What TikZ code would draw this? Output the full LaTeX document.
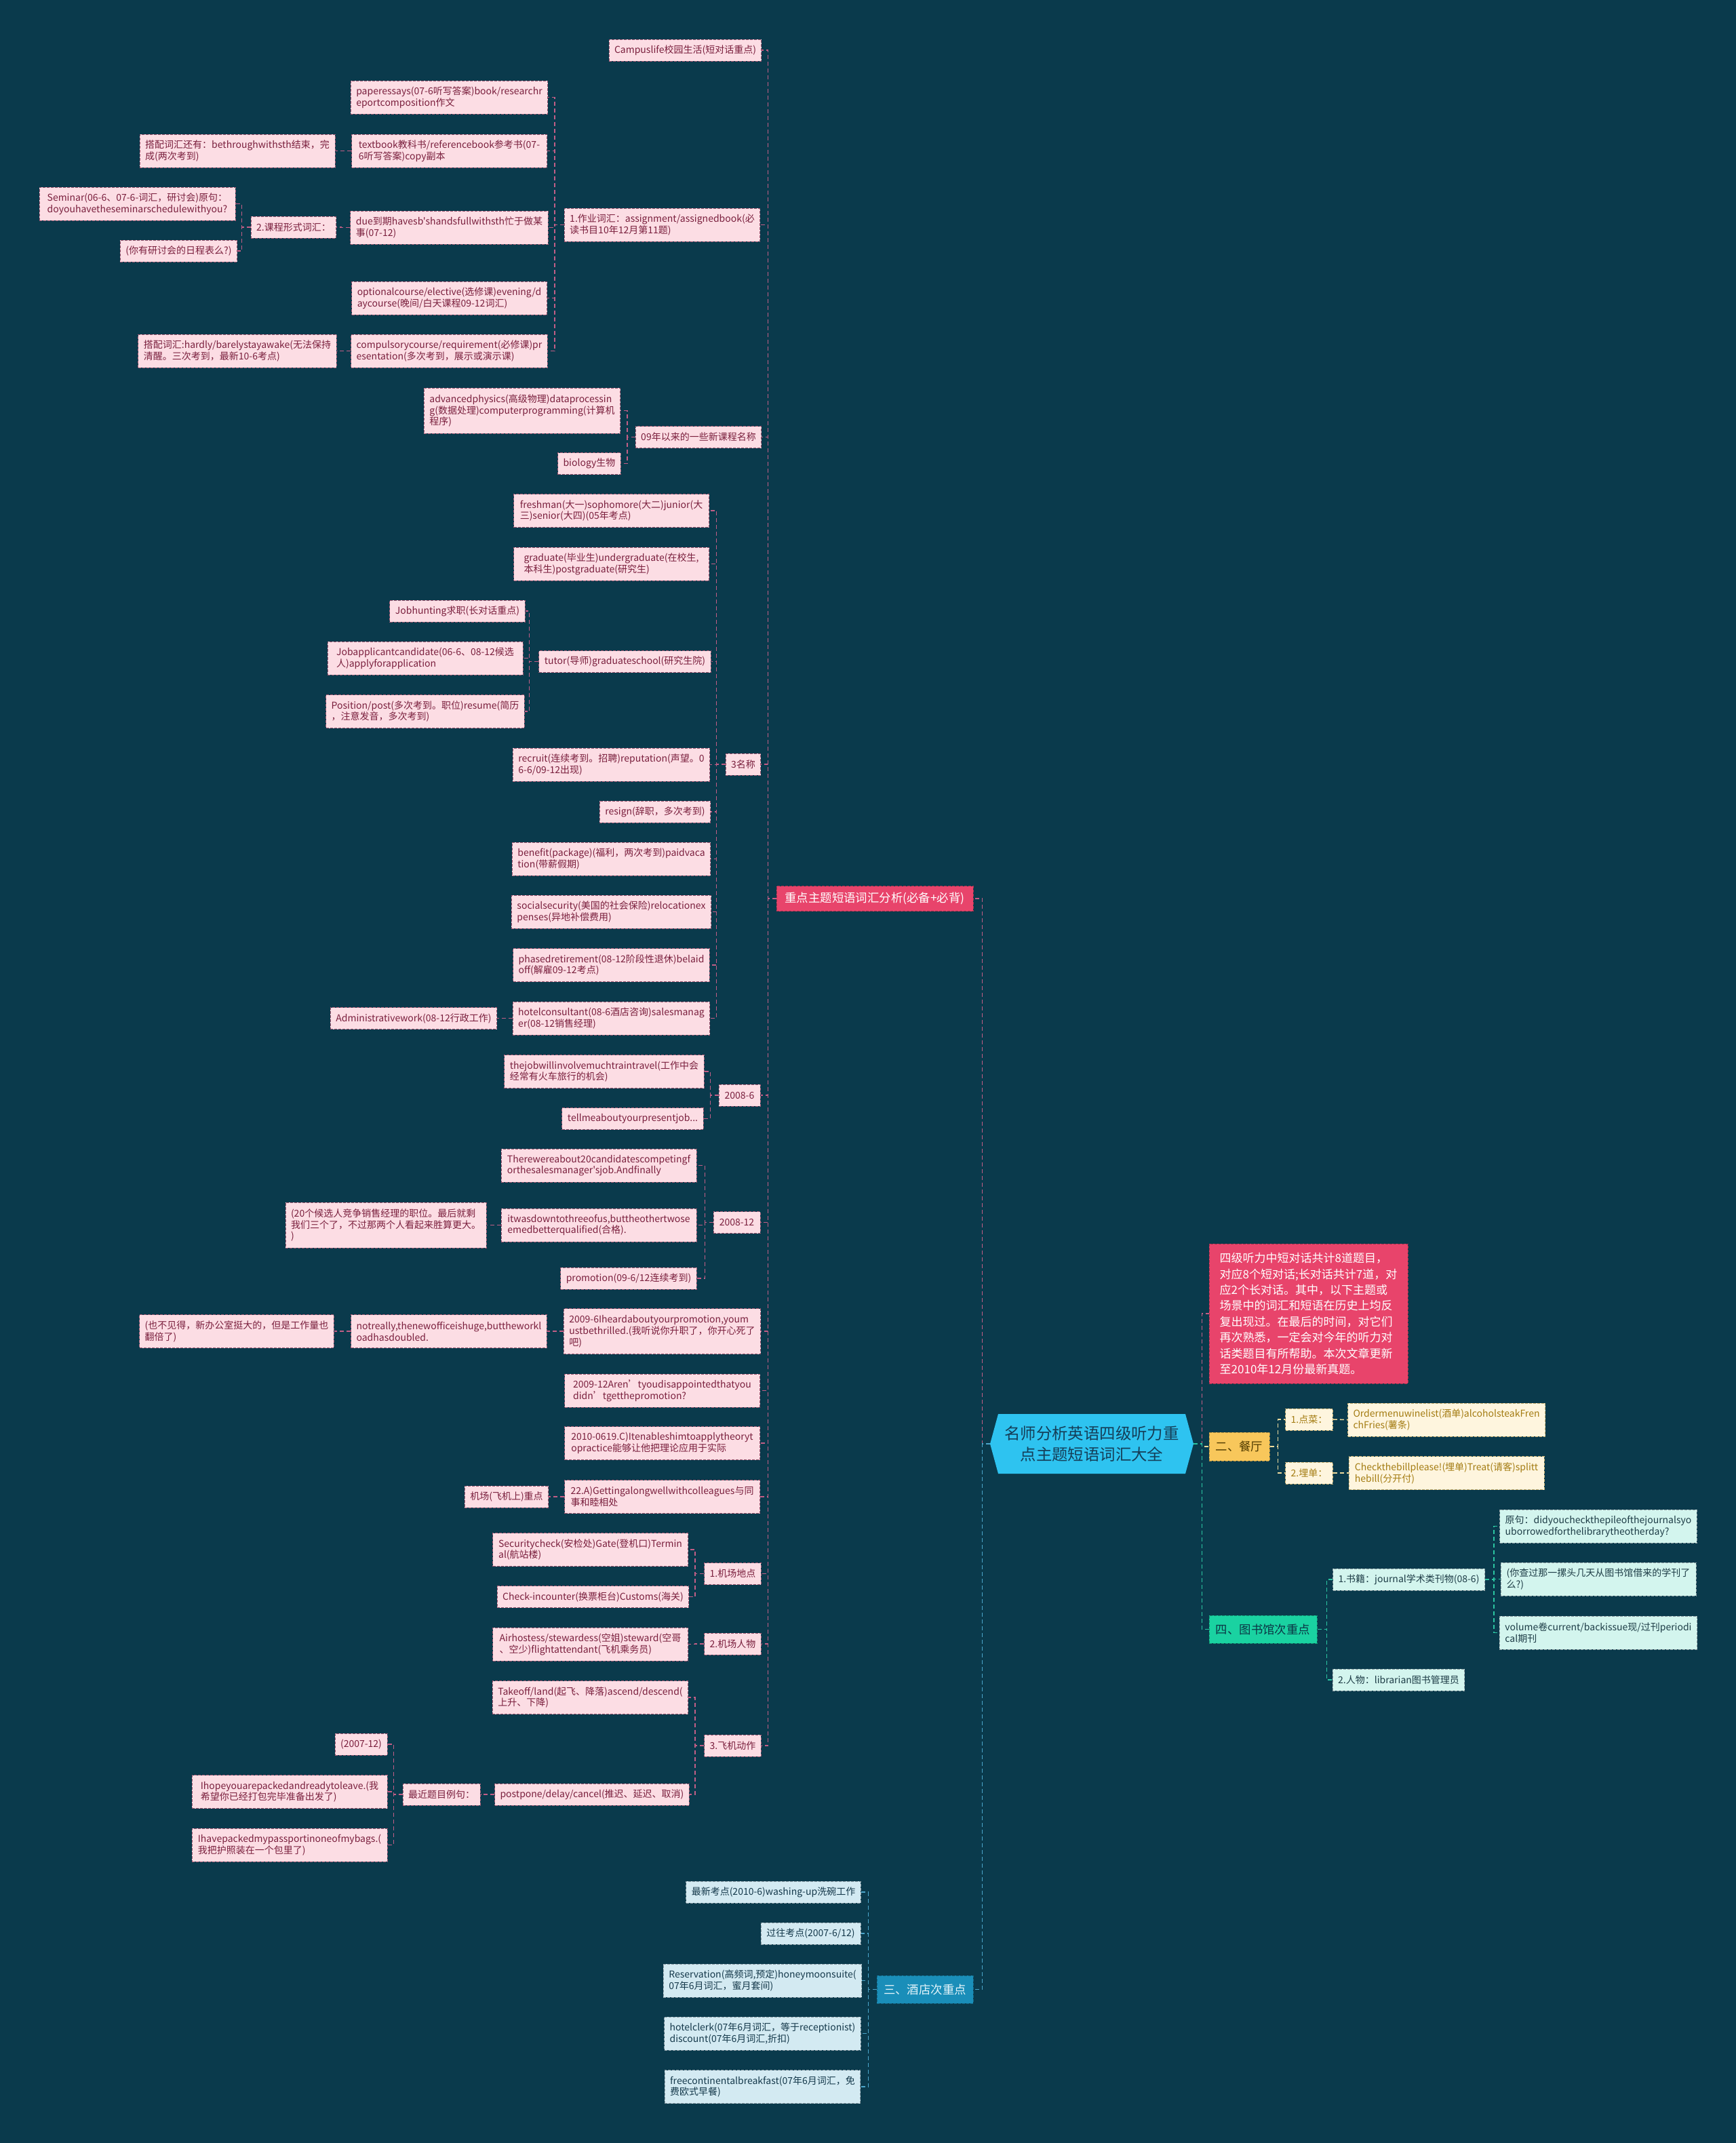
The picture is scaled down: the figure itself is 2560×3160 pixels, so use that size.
\documentclass[tikz,border=0pt]{standalone}
\usepackage{fontspec}
\setmainfont{Noto Sans CJK SC}[Ligatures=TeXOff]
\definecolor{bgc}{HTML}{0A3A4C}
\definecolor{pkfill}{HTML}{FCDDE4}
\definecolor{pktext}{HTML}{7A1F3D}
\definecolor{pkborder}{HTML}{9C5670}
\definecolor{pkline}{HTML}{C25E86}
\definecolor{hotpk}{HTML}{E8446B}
\definecolor{rootfill}{HTML}{2EC3F0}
\definecolor{roottext}{HTML}{153E58}
\definecolor{yfill}{HTML}{F8C75B}
\definecolor{ytext}{HTML}{4E3A00}
\definecolor{ycfill}{HTML}{FEF5DE}
\definecolor{yctext}{HTML}{A47C12}
\definecolor{yline}{HTML}{EFDC9E}
\definecolor{gfill}{HTML}{1AD2A1}
\definecolor{gtext}{HTML}{0B3645}
\definecolor{gcfill}{HTML}{D3F5EE}
\definecolor{gctext}{HTML}{1D3C46}
\definecolor{gline}{HTML}{2BC6A2}
\definecolor{bfill}{HTML}{1A8EB9}
\definecolor{btext}{HTML}{E4F5FB}
\definecolor{bcfill}{HTML}{D3EAF2}
\definecolor{bctext}{HTML}{15394B}
\definecolor{bline}{HTML}{4CA6CB}
\pgfdeclarelayer{back}
\pgfdeclarelayer{wires}
\pgfsetlayers{back,wires,main}
\newcommand{\fsS}{\fontsize{7pt}{8.4pt}\selectfont}
\newcommand{\fsM}{\fontsize{8.7pt}{11pt}\selectfont}
\newcommand{\fsN}{\fontsize{8.5pt}{11.7pt}\selectfont}
\newcommand{\fsR}{\fontsize{11.7pt}{15.8pt}\selectfont}
\tikzset{
  nd/.style={rectangle, inner xsep=4pt, inner ysep=1pt, align=left, font=\fsS},
  bdr/.style={line width=0.5pt, dash pattern=on 2pt off 1pt},
  pk/.style={nd, bdr, fill=pkfill, draw=pkborder, text=pktext},
  yc/.style={nd, bdr, fill=ycfill, draw=yctext!60, text=yctext},
  gc/.style={nd, bdr, fill=gcfill, draw=gctext!50, text=gctext},
  bc/.style={nd, bdr, fill=bcfill, draw=bctext!50, text=bctext},
  L1/.style={minimum height=16pt},
  L2/.style={minimum height=24.5pt},
  L3/.style={minimum height=33.5pt},
  wf/.style={minimum width=144pt},
  big/.style={rectangle, inner xsep=4pt, inner ysep=1pt, font=\fsM, bdr},
  wire/.style={line width=0.8pt, dash pattern=on 3pt off 2pt},
  pkc/.style={wire, draw=pkline},
  yc line/.style={wire, draw=yline},
  gc line/.style={wire, draw=gline},
  bc line/.style={wire, draw=bline},
}
\begin{document}
\begin{tikzpicture}[x=0.5pt, y=-0.5pt]
\useasboundingbox (0,0) rectangle (2560,3160);
\begin{pgfonlayer}{back}
\fill[bgc] (0,0) rectangle (2560,3160);
\end{pgfonlayer}

% ---------- root ----------
\node[font=\fsR, text=roottext, align=center, minimum width=150pt, minimum height=44pt, inner sep=0pt, fill=bgc,
  path picture={\fill[rootfill] (path picture bounding box.west) -- ([xshift=6pt]path picture bounding box.north west) -- ([xshift=-6pt]path picture bounding box.north east) -- (path picture bounding box.east) -- ([xshift=-6pt]path picture bounding box.south east) -- ([xshift=6pt]path picture bounding box.south west) -- cycle;}]
  (root) at (1610,2129) {名师分析英语四级听力重\\点主题短语词汇大全};

% ---------- main pink branch ----------
\node[big, fill=hotpk, draw=hotpk!70!black, text=white, minimum width=145pt, minimum height=18.5pt] (zd) at (1290,1325) {重点主题短语词汇分析(必备+必背)};

\node[pk,L1,minimum width=109.5pt] (c1) at (1010.5,74) {Campuslife校园生活(短对话重点)};
\node[pk,L2,wf] (a1) at (976.5,331.5) {1.作业词汇：assignment/assignedbook(必\\读书目10年12月第11题)};
\node[pk,L2,wf] (a11) at (662.5,143.5) {paperessays(07-6听写答案)book/researchr\\eportcomposition作文};
\node[pk,L2,wf] (a12) at (662.5,222.5) {textbook教科书/referencebook参考书(07-\\6听写答案)copy副本};
\node[pk,L2,wf] (a121) at (350,222.5) {搭配词汇还有：bethroughwithsth结束，完\\成(两次考到)};
\node[pk,L2,wf] (a13) at (662.5,335.5) {due到期havesb'shandsfullwithsth忙于做某\\事(07-12)};
\node[pk,L1,minimum width=61pt] (a131) at (433,335) {2.课程形式词汇：};
\node[pk,L2,minimum width=144.5pt] (a1311) at (202.5,300.5) {Seminar(06-6、07-6-词汇，研讨会)原句：\\doyouhavetheseminarschedulewithyou?};
\node[pk,L1,minimum width=83.5pt] (a1312) at (263.5,370) {(你有研讨会的日程表么?)};
\node[pk,L2,wf] (a14) at (662.5,439.5) {optionalcourse/elective(选修课)evening/d\\aycourse(晚间/白天课程09-12词汇)};
\node[pk,L2,wf] (a15) at (662.5,517.5) {compulsorycourse/requirement(必修课)pr\\esentation(多次考到，展示或演示课)};
\node[pk,L2,wf] (a151) at (350,517.5) {搭配词汇:hardly/barelystayawake(无法保持\\清醒。三次考到，最新10-6考点)};

\node[pk,L1,minimum width=91pt] (b1) at (1030,644.5) {09年以来的一些新课程名称};
\node[pk,L3,wf] (b11) at (770,605.5) {advancedphysics(高级物理)dataprocessin\\g(数据处理)computerprogramming(计算机\\程序)};
\node[pk,L1,minimum width=45pt] (b12) at (869,683.5) {biology生物};

\node[pk,L1,minimum width=25pt] (d1) at (1096,1127) {3名称};
\node[pk,L2,wf] (d11) at (901.5,753) {freshman(大一)sophomore(大二)junior(大\\三)senior(大四)(05年考点)};
\node[pk,L2,wf] (d12) at (901.5,831.5) {graduate(毕业生)undergraduate(在校生,\\本科生)postgraduate(研究生)};
\node[pk,L1,minimum width=124.5pt] (d13) at (921.5,975.5) {tutor(导师)graduateschool(研究生院)};
\node[pk,L1,minimum width=96.5pt] (d131) at (674.5,901) {Jobhunting求职(长对话重点)};
\node[pk,L2,wf] (d132) at (627,970.5) {Jobapplicantcandidate(06-6、08-12候选\\人)applyforapplication};
\node[pk,L2,wf] (d133) at (627,1049) {Position/post(多次考到。职位)resume(简历\\，注意发音，多次考到)};
\node[pk,L2,wf] (d14) at (901.5,1127.5) {recruit(连续考到。招聘)reputation(声望。0\\6-6/09-12出现)};
\node[pk,L1,minimum width=80pt] (d15) at (966,1197) {resign(辞职，多次考到)};
\node[pk,L2,wf] (d16) at (901.5,1266.5) {benefit(package)(福利，两次考到)paidvaca\\tion(带薪假期)};
\node[pk,L2,wf] (d17) at (901.5,1344.5) {socialsecurity(美国的社会保险)relocationex\\penses(异地补偿费用)};
\node[pk,L2,wf] (d18) at (901.5,1423) {phasedretirement(08-12阶段性退休)belaid\\off(解雇09-12考点)};
\node[pk,L2,wf] (d19) at (901.5,1501.5) {hotelconsultant(08-6酒店咨询)salesmanag\\er(08-12销售经理)};
\node[pk,L1,minimum width=122pt] (d191) at (610,1501.5) {Administrativework(08-12行政工作)};

\node[pk,L1,minimum width=30.5pt] (e1) at (1090.5,1615) {2008-6};
\node[pk,L2,wf] (e11) at (891,1580) {thejobwillinvolvemuchtraintravel(工作中会\\经常有火车旅行的机会)};
\node[pk,L1,minimum width=102pt] (e12) at (933,1649.5) {tellmeaboutyourpresentjob...};

\node[pk,L1,minimum width=34.5pt] (f1) at (1086.5,1802.5) {2008-12};
\node[pk,L2,wf] (f11) at (883,1718.5) {Therewereabout20candidatescompetingf\\orthesalesmanager'sjob.Andfinally};
\node[pk,L2,wf] (f12) at (883,1806.5) {itwasdowntothreeofus,buttheothertwose\\emedbetterqualified(合格).};
\node[pk,L3,wf] (f121) at (569,1806.5) {(20个候选人竞争销售经理的职位。最后就剩\\我们三个了，不过那两个人看起来胜算更大。\\)};
\node[pk,L1,minimum width=100pt] (f13) at (927,1885) {promotion(09-6/12连续考到)};

\node[pk,L3,wf] (g1) at (976.5,1963) {2009-6Iheardaboutyourpromotion,youm\\ustbethrilled.(我听说你升职了，你开心死了\\吧)};
\node[pk,L2,wf] (g11) at (662,1963) {notreally,thenewofficeishuge,buttheworkl\\oadhasdoubled.};
\node[pk,L2,minimum width=143pt] (g111) at (349,1963) {(也不见得，新办公室挺大的，但是工作量也\\翻倍了)};
\node[pk,L2,wf] (g2) at (976.5,2050.5) {2009-12Aren’tyoudisappointedthatyou\\didn’tgetthepromotion?};
\node[pk,L2,wf] (g3) at (976.5,2128) {2010-0619.C)Itenableshimtoapplytheoryt\\opractice能够让他把理论应用于实际};
\node[pk,L2,wf] (g4) at (976.5,2207) {22.A)Gettingalongwellwithcolleagues与同\\事和睦相处};
\node[pk,L1,minimum width=59pt] (g41) at (747,2207) {机场(飞机上)重点};

\node[pk,L1,minimum width=40.5pt] (h1) at (1080.5,2320.5) {1.机场地点};
\node[pk,L2,wf] (h11) at (870.5,2285) {Securitycheck(安检处)Gate(登机口)Termin\\al(航站楼)};
\node[pk,L1,minimum width=139.5pt] (h12) at (874.5,2354.5) {Check-incounter(换票柜台)Customs(海关)};
\node[pk,L1,minimum width=40.5pt] (h2) at (1080.5,2424) {2.机场人物};
\node[pk,L2,wf] (h21) at (870.5,2424.5) {Airhostess/stewardess(空姐)steward(空哥\\、空少)flightattendant(飞机乘务员)};
\node[pk,L1,minimum width=40.5pt] (h3) at (1080.5,2574) {3.飞机动作};
\node[pk,L2,wf] (h31) at (870.5,2503) {Takeoff/land(起飞、降落)ascend/descend(\\上升、下降)};
\node[pk,L1,minimum width=142pt] (h32) at (873,2646) {postpone/delay/cancel(推迟、延迟、取消)};
\node[pk,L1,minimum width=55pt] (h321) at (651,2646) {最近题目例句：};
\node[pk,L1,minimum width=38.5pt] (h3211) at (532.5,2572) {(2007-12)};
\node[pk,L2,wf] (h3212) at (427,2642) {Ihopeyouarepackedandreadytoleave.(我\\希望你已经打包完毕准备出发了)};
\node[pk,L2,wf] (h3213) at (427,2720.5) {Ihavepackedmypassportinoneofmybags.(\\我把护照装在一个包里了)};

% ---------- hotel (blue) ----------
\node[big, fill=bfill, draw=bfill!70!black, text=btext, minimum width=71pt, minimum height=20.5pt] (ht) at (1364,2933.5) {三、酒店次重点};
\node[bc,L1,minimum width=128.5pt] (ht1) at (1140.5,2790) {最新考点(2010-6)washing-up洗碗工作};
\node[bc,L1,minimum width=73.5pt] (ht2) at (1195.5,2851) {过往考点(2007-6/12)};
\node[bc,L2,wf] (ht3) at (1124.5,2920.5) {Reservation(高频词,预定)honeymoonsuite(\\07年6月词汇，蜜月套间)};
\node[bc,L2,wf] (ht4) at (1124.5,2998.5) {hotelclerk(07年6月词汇，等于receptionist)\\discount(07年6月词汇,折扣)};
\node[bc,L2,wf] (ht5) at (1124.5,3077) {freecontinentalbreakfast(07年6月词汇，免\\费欧式早餐)};

% ---------- note (red) ----------
\node[rectangle, fill=hotpk, draw=hotpk!70!black, bdr, text=white, font=\fsN, align=left, inner xsep=5pt, minimum width=146.5pt, minimum height=103pt] (note) at (1929.5,1937) {四级听力中短对话共计8道题目，\\对应8个短对话;长对话共计7道，对\\应2个长对话。其中，以下主题或\\场景中的词汇和短语在历史上均反\\复出现过。在最后的时间，对它们\\再次熟悉，一定会对今年的听力对\\话类题目有所帮助。本次文章更新\\至2010年12月份最新真题。};

% ---------- restaurant (yellow) ----------
\node[big, fill=yfill, draw=yfill!70!black, text=ytext, minimum width=44.5pt, minimum height=21pt] (cant) at (1827.5,2133) {二、餐厅};
\node[yc,L1,minimum width=33.5pt] (cd1) at (1930.5,2093) {1.点菜：};
\node[yc,L1,minimum width=33.5pt] (cd2) at (1930.5,2172) {2.埋单：};
\node[yc,L2,wf] (cd11) at (2133,2093.5) {Ordermenuwinelist(酒单)alcoholsteakFren\\chFries(薯条)};
\node[yc,L2,wf] (cd21) at (2133,2172) {Checkthebillplease!(埋单)Treat(请客)splitt\\hebill(分开付)};

% ---------- library (green) ----------
\node[big, fill=gfill, draw=gfill!70!black, text=gtext, minimum width=79.5pt, minimum height=20.5pt] (lib) at (1862.5,2402.5) {四、图书馆次重点};
\node[gc,L1,minimum width=109.5pt] (lb1) at (2077.5,2329) {1.书籍：journal学术类刊物(08-6)};
\node[gc,L1,minimum width=94.5pt] (lb2) at (2062.5,2477) {2.人物：librarian图书管理员};
\node[gc,L2,wf] (lb11) at (2357,2250.5) {原句：didyoucheckthepileofthejournalsyo\\uborrowedforthelibrarytheotherday?};
\node[gc,L2,wf] (lb12) at (2357,2328.5) {(你查过那一摞头几天从图书馆借来的学刊了\\么?)};
\node[gc,L2,wf] (lb13) at (2357,2407.5) {volume卷current/backissue现/过刊periodi\\cal期刊};

% ---------- connectors ----------
\begin{pgfonlayer}{wires}
\draw[pkc] (root.west) -- ++(-11,0) |- (zd.east);
\draw[bc line] (root.west) -- ++(-11,0) |- (ht.east);
\draw[pkc] (root.east) -- ++(12,0) |- (note.west);
\draw[yc line] (root.east) -- ++(12,0) |- (cant.west);
\draw[gc line] (root.east) -- ++(12,0) |- (lib.west);

\foreach \ch in {c1,a1,b1,d1,e1,f1,g1,g2,g3,g4,h1,h2,h3}
  \draw[pkc] (zd.west) -- ++(-12,0) |- (\ch.east);
\foreach \ch in {a11,a12,a13,a14,a15}
  \draw[pkc] (a1.west) -- ++(-14,0) |- (\ch.east);
\draw[pkc] (a12.west) -- ++(-13,0) |- (a121.east);
\draw[pkc] (a13.west) -- ++(-13,0) |- (a131.east);
\draw[pkc] (a15.west) -- ++(-13,0) |- (a151.east);
\foreach \ch in {a1311,a1312}
  \draw[pkc] (a131.west) -- ++(-13,0) |- (\ch.east);
\foreach \ch in {b11,b12}
  \draw[pkc] (b1.west) -- ++(-12,0) |- (\ch.east);
\foreach \ch in {d11,d12,d13,d14,d15,d16,d17,d18,d19}
  \draw[pkc] (d1.west) -- ++(-13,0) |- (\ch.east);
\foreach \ch in {d131,d132,d133}
  \draw[pkc] (d13.west) -- ++(-14,0) |- (\ch.east);
\draw[pkc] (d19.west) -- ++(-13,0) |- (d191.east);
\foreach \ch in {e11,e12}
  \draw[pkc] (e1.west) -- ++(-12,0) |- (\ch.east);
\foreach \ch in {f11,f12,f13}
  \draw[pkc] (f1.west) -- ++(-12,0) |- (\ch.east);
\draw[pkc] (f12.west) -- ++(-13,0) |- (f121.east);
\draw[pkc] (g1.west) -- ++(-13,0) |- (g11.east);
\draw[pkc] (g11.west) -- ++(-13,0) |- (g111.east);
\draw[pkc] (g4.west) -- ++(-13,0) |- (g41.east);
\foreach \ch in {h11,h12}
  \draw[pkc] (h1.west) -- ++(-13,0) |- (\ch.east);
\draw[pkc] (h2.west) -- ++(-13,0) |- (h21.east);
\foreach \ch in {h31,h32}
  \draw[pkc] (h3.west) -- ++(-13,0) |- (\ch.east);
\draw[pkc] (h32.west) -- ++(-13,0) |- (h321.east);
\foreach \ch in {h3211,h3212,h3213}
  \draw[pkc] (h321.west) -- ++(-13,0) |- (\ch.east);

\foreach \ch in {ht1,ht2,ht3,ht4,ht5}
  \draw[bc line] (ht.west) -- ++(-12,0) |- (\ch.east);

\foreach \ch in {cd1,cd2}
  \draw[yc line] (cant.east) -- ++(12,0) |- (\ch.west);
\draw[yc line] (cd1.east) -- (cd11.west);
\draw[yc line] (cd2.east) -- (cd21.west);

\foreach \ch in {lb1,lb2}
  \draw[gc line] (lib.east) -- ++(14,0) |- (\ch.west);
\foreach \ch in {lb11,lb12,lb13}
  \draw[gc line] (lb1.east) -- ++(13,0) |- (\ch.west);
\end{pgfonlayer}
\end{tikzpicture}
\end{document}
